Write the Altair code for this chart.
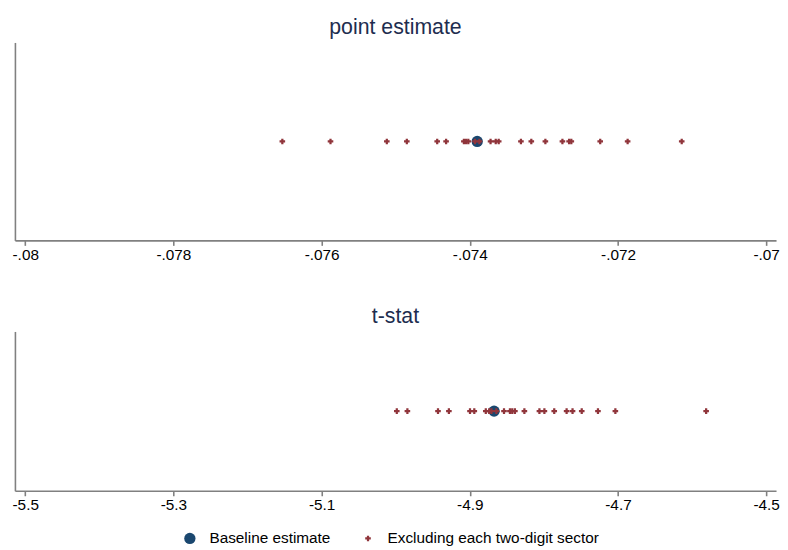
import altair as alt
import pandas as pd

series_names = ["Baseline estimate", "Excluding each two-digit sector"]
series_colors = ["#1a476f", "#90353b"]

# point estimate panel
pe_baseline = [-0.07390]
pe_excl = [-0.07653, -0.07588, -0.07512, -0.07485, -0.07444, -0.07432, -0.07408,
           -0.07405, -0.07402, -0.07393, -0.07387, -0.07372, -0.07365, -0.07361,
           -0.07331, -0.07317, -0.07298, -0.07275, -0.07266, -0.07263, -0.07224,
           -0.07187, -0.07114]
pe_ticks = [-0.08, -0.078, -0.076, -0.074, -0.072, -0.07]
pe_domain = [-0.080139, -0.069867]

# t-stat panel
t_baseline = [-4.8672]
t_excl = [-4.9985, -4.9842, -4.9429, -4.9282, -4.8997, -4.8939, -4.8784, -4.8738,
          -4.8708, -4.8641, -4.8538, -4.8458, -4.8427, -4.8391, -4.8263, -4.8060,
          -4.7993, -4.7860, -4.7693, -4.7613, -4.7489, -4.7270, -4.7035, -4.5810]
t_ticks = [-5.5, -5.3, -5.1, -4.9, -4.7, -4.5]
t_domain = [-5.51389, -4.48665]

FONT = "Liberation Sans"


def make_df(base, excl):
    rows = [{"value": v, "series": series_names[0], "row": 1} for v in base]
    rows += [{"value": v, "series": series_names[1], "row": 1} for v in excl]
    return pd.DataFrame(rows)


legend = alt.Legend(
    orient="none", legendX=169, legendY=493, direction="horizontal",
    title=None, labelFont=FONT, labelFontSize=15.5, labelColor="black",
    labelOffset=12, labelLimit=0, columnPadding=30, symbolStrokeWidth=0, padding=0,
)


def panel(df, domain, ticks, title, h):
    return alt.Chart(df).mark_point(filled=True, opacity=1, strokeWidth=0).encode(
        x=alt.X("value:Q",
                scale=alt.Scale(domain=domain, nice=False, zero=False),
                axis=alt.Axis(values=ticks, title=None, grid=False,
                              labelExpr="replace(datum.value + '', '-0.', '-.')")),
        y=alt.Y("row:Q", scale=alt.Scale(domain=[0, 2]),
                axis=alt.Axis(labels=False, ticks=False, grid=False, title=None)),
        color=alt.Color("series:N", scale=alt.Scale(domain=series_names, range=series_colors),
                        legend=legend),
        shape=alt.Shape("series:N", scale=alt.Scale(domain=series_names, range=["circle", "cross"]),
                        legend=legend),
        size=alt.Size("series:N", scale=alt.Scale(domain=series_names, range=[130, 32]),
                      legend=legend),
    ).properties(width=769, height=h, title=title)


top = panel(make_df(pe_baseline, pe_excl), pe_domain, pe_ticks, "point estimate", 200)
bottom = panel(make_df(t_baseline, t_excl), t_domain, t_ticks, "t-stat", 161)

chart = alt.vconcat(top, bottom, spacing=43).properties(
    padding={"left": 4, "top": 6, "right": 0, "bottom": 0},
    background="white",
).configure_view(stroke=None).configure_axis(
    domainColor="#808080", domainWidth=1.6, tickColor="#808080", tickWidth=1.6,
    tickSize=5, labelFont=FONT, labelFontSize=15.5, labelColor="black", labelPadding=2,
).configure_title(
    font=FONT, fontSize=21.5, fontWeight="normal", color="#1e2d4f", offset=4,
    baseline="alphabetic", anchor="middle",
)

chart.save("out.html", embed_options={"renderer": "svg", "actions": False})
